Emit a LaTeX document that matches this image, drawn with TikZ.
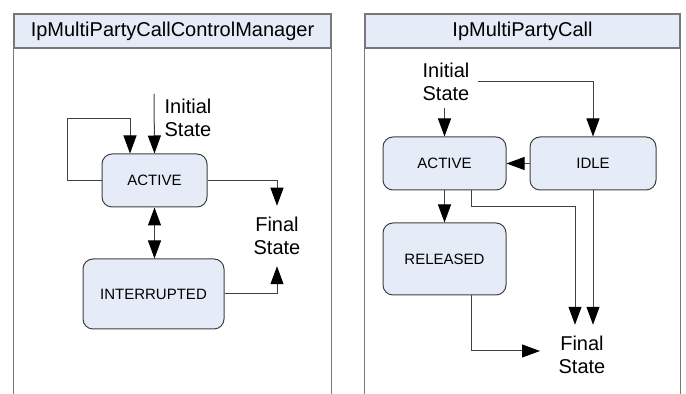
\documentclass[tikz,border=0pt]{standalone}
\usepackage{fontspec}
\setmainfont{Liberation Sans}
\usepackage{xcolor}
\usetikzlibrary{arrows.meta,positioning,calc}
\definecolor{paleblue}{RGB}{229,236,247}
\definecolor{framegray}{RGB}{120,120,120}
\definecolor{linegray}{RGB}{64,64,64}

\begin{document}
\begin{tikzpicture}[
  x=0.5pt, y=-0.5pt,
  head/.style={draw=framegray, line width=0.7pt, fill=paleblue, font=\fontsize{10}{12}\selectfont, inner sep=0pt, minimum height=17pt},
  frame/.style={draw=framegray, line width=0.7pt},
  state/.style={draw=linegray, line width=0.5pt, rounded corners=5pt, fill=paleblue, font=\fontsize{7.5}{9}\selectfont, inner sep=0pt},
  label/.style={align=center, font=\fontsize{10}{11.5}\selectfont, inner xsep=4pt, inner ysep=5.5pt},
  arr/.style={-{Triangle[length=9pt, width=6.5pt, color=black]}, draw=linegray, line width=0.5pt},
  arrs/.style={{Triangle[length=9pt, width=6.5pt, color=black]}-{Triangle[length=9pt, width=6.5pt, color=black]}, draw=linegray, line width=0.5pt}]
  \useasboundingbox (0,0) rectangle (686,394);
  % left panel
  \node[head, minimum width=158.5pt] (hdL) at (172.5,31) {IpMultiPartyCallControlManager};
  \draw[frame] (hdL.south west) -- (hdL.south west |- 0,394);
  \draw[frame] (hdL.south east) -- (hdL.south east |- 0,394);
  \node[state, minimum width=52.5pt, minimum height=26.5pt] (actL) at (154.5,180.5) {ACTIVE};
  \node[state, minimum width=70.5pt, minimum height=35pt] (intL) at (153.5,294) {INTERRUPTED};
  \node[label] (iniL) at (188,118) {Initial\\State};
  \node[label] (finL) at (277,236) {Final\\State};
  \coordinate (iniLsrc) at (154,94);
  \coordinate (loopL) at (67,119);
  \draw[arr] (iniLsrc) -- (actL.north);
  \draw[arr] (actL.west) -| (loopL) -| ([xshift=-12.25pt]actL.north);
  \draw[arrs] (actL.south) -- (intL.north -| actL.south);
  \draw[arr] (actL.east) -| (finL.north);
  \draw[arr] (intL.east) -| (finL.south);
  % right panel
  \node[head, minimum width=157.5pt] (hdR) at (522.5,31) {IpMultiPartyCall};
  \draw[frame] (hdR.south west) -- (hdR.south west |- 0,394);
  \draw[frame] (hdR.south east) -- (hdR.south east |- 0,394);
  \node[state, minimum width=61.5pt, minimum height=26.5pt] (actR) at (444.5,163.5) {ACTIVE};
  \node[state, minimum width=63pt, minimum height=26.5pt] (idlR) at (593,163.5) {IDLE};
  \node[state, minimum width=61.5pt, minimum height=36pt] (relR) at (444.5,259) {RELEASED};
  \node[label, inner ysep=3.5pt] (iniR) at (446,82) {Initial\\State};
  \node[label] (finR) at (582,355) {Final\\State};
  \coordinate (relRend) at (540,351);
  \draw[arr] (iniR.south -| actR.north) -- (actR.north);
  \draw[arr] (iniR.east) -| (idlR.north);
  \draw[arr] (idlR.west) -- (actR.east);
  \draw[arr] (actR.south) -- (relR.north);
  \draw[arr] ([xshift=13.25pt]actR.south) -- ++(0,16) -| ([xshift=-3.5pt]finR.north);
  \draw[arr] (idlR.south) -- (idlR.south |- finR.north);
  \draw[arr] ([xshift=13.25pt]relR.south) |- (relRend);
\end{tikzpicture}
\end{document}
